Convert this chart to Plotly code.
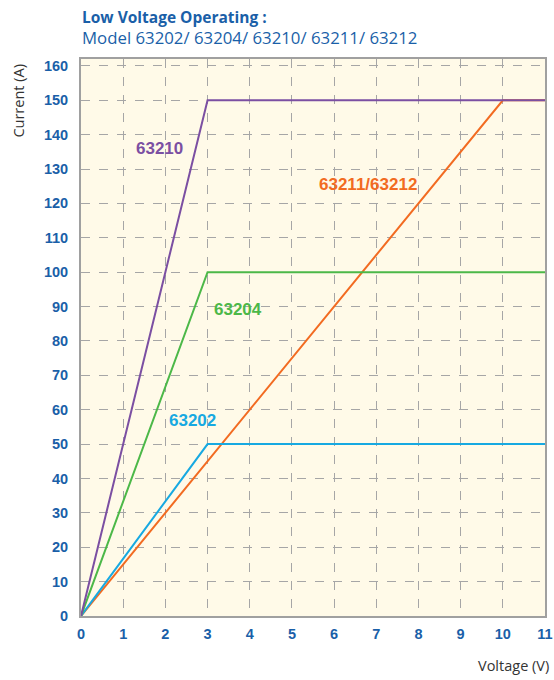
import plotly.graph_objects as go

voltage_points = {
    "63210": [0, 3, 11],
    "63204": [0, 3, 11],
    "63202": [0, 3, 11],
    "63211/63212": [0, 10, 11],
}
current_points = {
    "63210": [0, 150, 150],
    "63204": [0, 100, 100],
    "63202": [0, 50, 50],
    "63211/63212": [0, 150, 150],
}
colors = {
    "63210": "#7b4fa2",
    "63204": "#4cb848",
    "63202": "#17a9e1",
    "63211/63212": "#f26b21",
}
label_pos = {
    "63210": (1.87, 136),
    "63204": (3.72, 89),
    "63202": (2.65, 57),
    "63211/63212": (6.8, 125.5),
}
x_ticks = list(range(0, 12))
y_ticks = list(range(0, 170, 10))

fig = go.Figure()
for name in ["63211/63212", "63202", "63204", "63210"]:
    fig.add_trace(go.Scatter(x=voltage_points[name], y=current_points[name], mode="lines",
                             line=dict(color=colors[name], width=2), showlegend=False,
                             cliponaxis=False, hoverinfo="skip"))
    lx, ly = label_pos[name]
    fig.add_annotation(x=lx, y=ly, text="<b>%s</b>" % name, showarrow=False,
                       font=dict(color=colors[name], size=17, family="Liberation Sans"))

tickfont = dict(family="Liberation Sans", size=14.5, color="#1a5fa8")
fig.update_xaxes(range=[0, 11], tickvals=x_ticks, ticktext=["<b>%d</b>" % v for v in x_ticks],
                 tickfont=tickfont, showgrid=True, gridcolor="#a6a6a6", griddash="dash", gridwidth=1,
                 showline=True, linecolor="#a0a0a0", linewidth=2, mirror=True, zeroline=False,
                 ticks="", ticklabelstandoff=4, automargin=False, ticklabeloverflow="allow")
fig.update_yaxes(range=[0, 162], tickvals=y_ticks, ticktext=["<b>%d</b>" % v for v in y_ticks],
                 tickfont=tickfont, showgrid=True, gridcolor="#a6a6a6", griddash="dash", gridwidth=1,
                 showline=True, linecolor="#a0a0a0", linewidth=2, mirror=True, zeroline=False,
                 ticks="", ticklabelstandoff=8, automargin=False, ticklabeloverflow="allow")

fig.add_annotation(xref="paper", yref="paper", x=-0.135, y=0.926, xanchor="center", yanchor="middle",
                   text="Current (A)", textangle=-90,
                   showarrow=False, font=dict(family="Open Sans", size=14.5, color="#333333"))
fig.add_annotation(xref="paper", yref="paper", x=1.012, y=-0.088, xanchor="right", yanchor="middle",
                   text="Voltage (V)", showarrow=False, font=dict(family="Open Sans", size=14.5, color="#333333"))
fig.add_annotation(xref="paper", yref="paper", x=0.0, y=1.0, xanchor="left", yanchor="bottom",
                   yshift=29, xshift=-1, align="left",
                   text="<b>Low Voltage Operating :</b>", showarrow=False,
                   font=dict(family="Open Sans", size=15.5, color="#1a5fa8"))
fig.add_annotation(xref="paper", yref="paper", x=0.0, y=1.0, xanchor="left", yanchor="bottom",
                   yshift=8, xshift=-1, align="left",
                   text="Model 63202/ 63204/ 63210/ 63211/ 63212", showarrow=False,
                   font=dict(family="Open Sans", size=16.8, color="#1a5fa8"))

fig.update_layout(width=554, height=680, margin=dict(l=81, r=9, t=59, b=64),
                  plot_bgcolor="#fffae8", paper_bgcolor="white")
fig.write_html("out.html", config={"displayModeBar": False},
               post_script="document.body.style.margin='0';document.body.style.overflow='hidden';")
